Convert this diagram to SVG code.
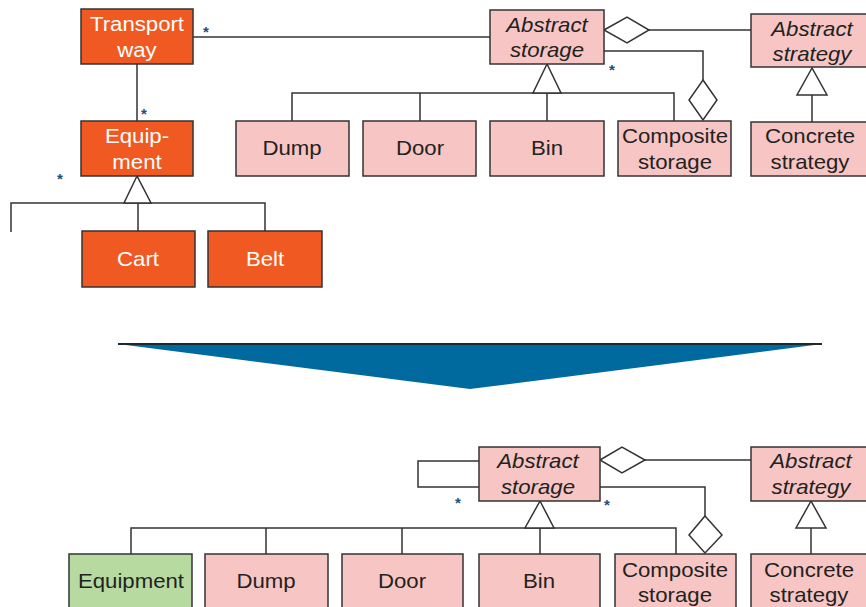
<svg xmlns="http://www.w3.org/2000/svg" width="866" height="607" viewBox="0 0 866 607">
  <style>
    .box { stroke: #333; stroke-width: 1.5; }
    .orange { fill: #F05A22; }
    .pink { fill: #F7C6C4; }
    .green { fill: #B7DAA0; }
    .lbl { font-family: "Liberation Sans", Arial, sans-serif; font-size: 20px; text-anchor: middle; fill: #222; }
    .wt { fill: #FFFFFF; }
    .it { font-style: italic; }
    .wire { fill: none; stroke: #333; stroke-width: 1.5; }
    .hollow { fill: #FFFFFF; stroke: #333; stroke-width: 1.5; }
    .mult { font-family: "Liberation Sans", Arial, sans-serif; font-size: 15px; font-weight: bold; fill: #1F4E79; text-anchor: middle; }
  </style>

  <rect width="866" height="607" fill="#FFFFFF"/>

  <!-- upper model: connectors -->
  <g id="connectors-top">
    <path class="wire" d="M193 37 H490"/>
    <path class="wire" d="M137 64 V121"/>
    <path class="wire" d="M11 232 V203 H265 V231 M138 203 V231"/>
    <polygon class="hollow" points="137,176 124,203 151,203"/>
    <path class="wire" d="M292 121 V93 H674 V121 M420 93 V121 M547 93 V121"/>
    <polygon class="hollow" points="547,64 533,93 561,93"/>
    <path class="wire" d="M649 30 H751"/>
    <polygon class="hollow" points="604,30 627,17 649,30 627,43"/>
    <path class="wire" d="M604 51 H703 V80"/>
    <polygon class="hollow" points="703,80 717,100 703,120 689,100"/>
    <path class="wire" d="M812 95 V122"/>
    <polygon class="hollow" points="812,68 797,95 827,95"/>
    <text class="mult" x="206" y="37">*</text>
    <text class="mult" x="144" y="119">*</text>
    <text class="mult" x="60" y="184">*</text>
    <text class="mult" x="612" y="75">*</text>
  </g>

  <!-- upper model: classes (labels widened 11% about their centre) -->
  <g id="transport-way">
    <rect class="box orange" x="81" y="9" width="112" height="55"/>
    <text class="lbl wt" x="137" y="31" transform="matrix(1.11 0 0 1 -15.07 0)">Transport</text>
    <text class="lbl wt" x="137" y="57" transform="matrix(1.11 0 0 1 -15.07 0)">way</text>
  </g>
  <g id="equipment-top">
    <rect class="box orange" x="81" y="121" width="112" height="55"/>
    <text class="lbl wt" x="137" y="143" transform="matrix(1.11 0 0 1 -15.07 0)">Equip-</text>
    <text class="lbl wt" x="137" y="169" transform="matrix(1.11 0 0 1 -15.07 0)">ment</text>
  </g>
  <g id="cart">
    <rect class="box orange" x="82" y="231" width="113" height="56"/>
    <text class="lbl wt" x="138" y="266" transform="matrix(1.11 0 0 1 -15.18 0)">Cart</text>
  </g>
  <g id="belt">
    <rect class="box orange" x="208" y="231" width="114" height="56"/>
    <text class="lbl wt" x="265" y="266" transform="matrix(1.11 0 0 1 -29.15 0)">Belt</text>
  </g>
  <g id="abstract-storage-top">
    <rect class="box pink" x="490" y="10" width="114" height="54"/>
    <text class="lbl it" x="547" y="32" transform="matrix(1.11 0 0 1 -60.17 0)">Abstract</text>
    <text class="lbl it" x="547" y="57" transform="matrix(1.11 0 0 1 -60.17 0)">storage</text>
  </g>
  <g id="abstract-strategy-top">
    <rect class="box pink" x="751" y="14" width="120" height="53"/>
    <text class="lbl it" x="812" y="36" transform="matrix(1.11 0 0 1 -89.32 0)">Abstract</text>
    <text class="lbl it" x="812" y="61" transform="matrix(1.11 0 0 1 -89.32 0)">strategy</text>
  </g>
  <g id="dump-top">
    <rect class="box pink" x="236" y="121" width="113" height="55"/>
    <text class="lbl" x="292" y="155" transform="matrix(1.11 0 0 1 -32.12 0)">Dump</text>
  </g>
  <g id="door-top">
    <rect class="box pink" x="363" y="121" width="113" height="55"/>
    <text class="lbl" x="420" y="155" transform="matrix(1.11 0 0 1 -46.2 0)">Door</text>
  </g>
  <g id="bin-top">
    <rect class="box pink" x="490" y="121" width="114" height="55"/>
    <text class="lbl" x="547" y="155" transform="matrix(1.11 0 0 1 -60.17 0)">Bin</text>
  </g>
  <g id="composite-storage-top">
    <rect class="box pink" x="618" y="121" width="113" height="55"/>
    <text class="lbl" x="675" y="143" transform="matrix(1.11 0 0 1 -74.25 0)">Composite</text>
    <text class="lbl" x="675" y="169" transform="matrix(1.11 0 0 1 -74.25 0)">storage</text>
  </g>
  <g id="concrete-strategy-top">
    <rect class="box pink" x="751" y="122" width="120" height="54"/>
    <text class="lbl" x="810" y="143" transform="matrix(1.11 0 0 1 -89.1 0)">Concrete</text>
    <text class="lbl" x="810" y="169" transform="matrix(1.11 0 0 1 -89.1 0)">strategy</text>
  </g>

  <!-- transformation arrow -->
  <g id="transform-arrow">
    <polygon points="118,344 822,344 470,389" fill="#006A9E"/>
    <path d="M118 344 H822" stroke="#1A2A33" stroke-width="2"/>
  </g>

  <!-- lower model: connectors -->
  <g id="connectors-bottom">
    <path class="wire" d="M479 461 H418 V487 H479"/>
    <path class="wire" d="M131 554 V528 H676 V554 M266 528 V554 M402 528 V554 M540 528 V554"/>
    <polygon class="hollow" points="540,501 525,528 554,528"/>
    <path class="wire" d="M645 460 H751"/>
    <polygon class="hollow" points="600,460 622,447 645,460 622,473"/>
    <path class="wire" d="M600 487 H705 V516"/>
    <polygon class="hollow" points="705,516 722,535 705,553 689,535"/>
    <path class="wire" d="M811 528 V554"/>
    <polygon class="hollow" points="811,501 796,528 826,528"/>
    <text class="mult" x="458" y="508">*</text>
    <text class="mult" x="607" y="510">*</text>
  </g>

  <!-- lower model: classes -->
  <g id="abstract-storage-bottom">
    <rect class="box pink" x="479" y="447" width="121" height="54"/>
    <text class="lbl it" x="538" y="468" transform="matrix(1.11 0 0 1 -59.18 0)">Abstract</text>
    <text class="lbl it" x="538" y="494" transform="matrix(1.11 0 0 1 -59.18 0)">storage</text>
  </g>
  <g id="abstract-strategy-bottom">
    <rect class="box pink" x="751" y="447" width="120" height="54"/>
    <text class="lbl it" x="811" y="468" transform="matrix(1.11 0 0 1 -89.21 0)">Abstract</text>
    <text class="lbl it" x="811" y="494" transform="matrix(1.11 0 0 1 -89.21 0)">strategy</text>
  </g>
  <g id="equipment-bottom">
    <rect class="box green" x="69" y="554" width="123" height="60"/>
    <text class="lbl" x="131" y="588" transform="matrix(1.11 0 0 1 -14.41 0)">Equipment</text>
  </g>
  <g id="dump-bottom">
    <rect class="box pink" x="205" y="554" width="123" height="60"/>
    <text class="lbl" x="266" y="588" transform="matrix(1.11 0 0 1 -29.26 0)">Dump</text>
  </g>
  <g id="door-bottom">
    <rect class="box pink" x="342" y="554" width="121" height="60"/>
    <text class="lbl" x="402" y="588" transform="matrix(1.11 0 0 1 -44.22 0)">Door</text>
  </g>
  <g id="bin-bottom">
    <rect class="box pink" x="479" y="554" width="121" height="60"/>
    <text class="lbl" x="539" y="588" transform="matrix(1.11 0 0 1 -59.29 0)">Bin</text>
  </g>
  <g id="composite-storage-bottom">
    <rect class="box pink" x="615" y="554" width="121" height="60"/>
    <text class="lbl" x="675" y="577" transform="matrix(1.11 0 0 1 -74.25 0)">Composite</text>
    <text class="lbl" x="675" y="602" transform="matrix(1.11 0 0 1 -74.25 0)">storage</text>
  </g>
  <g id="concrete-strategy-bottom">
    <rect class="box pink" x="751" y="554" width="120" height="60"/>
    <text class="lbl" x="809" y="577" transform="matrix(1.11 0 0 1 -88.99 0)">Concrete</text>
    <text class="lbl" x="809" y="602" transform="matrix(1.11 0 0 1 -88.99 0)">strategy</text>
  </g>
</svg>
